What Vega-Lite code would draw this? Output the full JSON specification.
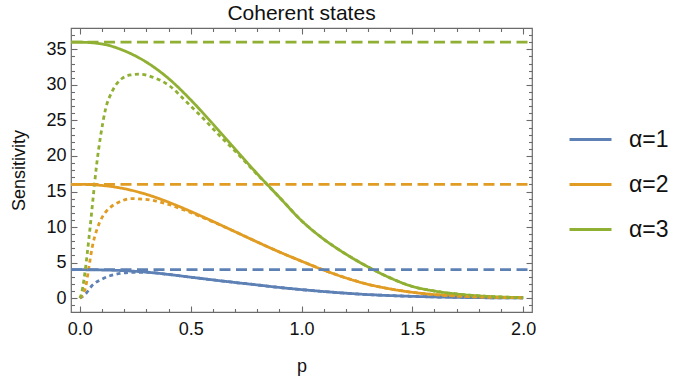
{
  "$schema": "https://vega.github.io/schema/vega-lite/v6.json",
  "autosize": {"type": "none"},
  "padding": {"left": 71, "top": 28, "right": 143, "bottom": 69},
  "width": 461,
  "height": 284,
  "background": "white",
  "config": {
    "view": {"stroke": "#6b6b6b", "strokeWidth": 1.2},
    "font": "Liberation Sans",
    "axis": {"domain": false, "grid": false, "labelFont": "Liberation Sans", "titleFont": "Liberation Sans", "labelColor": "#111", "titleColor": "#111", "tickColor": "#6b6b6b", "tickWidth": 1.1, "titleFontWeight": "normal"}
  },
  "title": {"text": "Coherent states", "fontSize": 21, "font": "Liberation Sans", "fontWeight": "normal", "color": "#111", "baseline": "alphabetic", "offset": -14, "anchor": "middle"},
  "data": {"values": [
    {"p": -0.04, "v": 4.0, "a": "α=1", "s": "solid"},
    {"p": 0, "v": 4.0, "a": "α=1", "s": "solid"},
    {"p": 0.1, "v": 3.96, "a": "α=1", "s": "solid"},
    {"p": 0.2, "v": 3.86, "a": "α=1", "s": "solid"},
    {"p": 0.3, "v": 3.66, "a": "α=1", "s": "solid"},
    {"p": 0.4, "v": 3.33, "a": "α=1", "s": "solid"},
    {"p": 0.5, "v": 2.95, "a": "α=1", "s": "solid"},
    {"p": 0.6, "v": 2.57, "a": "α=1", "s": "solid"},
    {"p": 0.7, "v": 2.2, "a": "α=1", "s": "solid"},
    {"p": 0.8, "v": 1.86, "a": "α=1", "s": "solid"},
    {"p": 0.9, "v": 1.5, "a": "α=1", "s": "solid"},
    {"p": 1.0, "v": 1.2, "a": "α=1", "s": "solid"},
    {"p": 1.1, "v": 0.93, "a": "α=1", "s": "solid"},
    {"p": 1.2, "v": 0.7, "a": "α=1", "s": "solid"},
    {"p": 1.3, "v": 0.5, "a": "α=1", "s": "solid"},
    {"p": 1.4, "v": 0.36, "a": "α=1", "s": "solid"},
    {"p": 1.5, "v": 0.25, "a": "α=1", "s": "solid"},
    {"p": 1.6, "v": 0.17, "a": "α=1", "s": "solid"},
    {"p": 1.7, "v": 0.11, "a": "α=1", "s": "solid"},
    {"p": 1.8, "v": 0.07, "a": "α=1", "s": "solid"},
    {"p": 1.9, "v": 0.04, "a": "α=1", "s": "solid"},
    {"p": 2.0, "v": 0.03, "a": "α=1", "s": "solid"},

    {"p": -0.04, "v": 16, "a": "α=2", "s": "solid"},
    {"p": 0, "v": 16, "a": "α=2", "s": "solid"},
    {"p": 0.1, "v": 15.85, "a": "α=2", "s": "solid"},
    {"p": 0.2, "v": 15.4, "a": "α=2", "s": "solid"},
    {"p": 0.3, "v": 14.6, "a": "α=2", "s": "solid"},
    {"p": 0.4, "v": 13.5, "a": "α=2", "s": "solid"},
    {"p": 0.5, "v": 12.2, "a": "α=2", "s": "solid"},
    {"p": 0.6, "v": 10.8, "a": "α=2", "s": "solid"},
    {"p": 0.7, "v": 9.35, "a": "α=2", "s": "solid"},
    {"p": 0.8, "v": 7.9, "a": "α=2", "s": "solid"},
    {"p": 0.9, "v": 6.5, "a": "α=2", "s": "solid"},
    {"p": 1.0, "v": 5.2, "a": "α=2", "s": "solid"},
    {"p": 1.1, "v": 3.95, "a": "α=2", "s": "solid"},
    {"p": 1.2, "v": 2.85, "a": "α=2", "s": "solid"},
    {"p": 1.3, "v": 1.95, "a": "α=2", "s": "solid"},
    {"p": 1.4, "v": 1.3, "a": "α=2", "s": "solid"},
    {"p": 1.5, "v": 0.82, "a": "α=2", "s": "solid"},
    {"p": 1.6, "v": 0.5, "a": "α=2", "s": "solid"},
    {"p": 1.7, "v": 0.3, "a": "α=2", "s": "solid"},
    {"p": 1.8, "v": 0.17, "a": "α=2", "s": "solid"},
    {"p": 1.9, "v": 0.1, "a": "α=2", "s": "solid"},
    {"p": 2.0, "v": 0.05, "a": "α=2", "s": "solid"},

    {"p": -0.04, "v": 36, "a": "α=3", "s": "solid"},
    {"p": 0, "v": 36, "a": "α=3", "s": "solid"},
    {"p": 0.1, "v": 35.75, "a": "α=3", "s": "solid"},
    {"p": 0.2, "v": 34.8, "a": "α=3", "s": "solid"},
    {"p": 0.3, "v": 33.2, "a": "α=3", "s": "solid"},
    {"p": 0.4, "v": 30.9, "a": "α=3", "s": "solid"},
    {"p": 0.5, "v": 27.9, "a": "α=3", "s": "solid"},
    {"p": 0.6, "v": 24.5, "a": "α=3", "s": "solid"},
    {"p": 0.7, "v": 21.0, "a": "α=3", "s": "solid"},
    {"p": 0.8, "v": 17.5, "a": "α=3", "s": "solid"},
    {"p": 0.9, "v": 14.2, "a": "α=3", "s": "solid"},
    {"p": 1.0, "v": 10.9, "a": "α=3", "s": "solid"},
    {"p": 1.1, "v": 8.3, "a": "α=3", "s": "solid"},
    {"p": 1.2, "v": 6.2, "a": "α=3", "s": "solid"},
    {"p": 1.3, "v": 4.4, "a": "α=3", "s": "solid"},
    {"p": 1.4, "v": 2.85, "a": "α=3", "s": "solid"},
    {"p": 1.5, "v": 1.65, "a": "α=3", "s": "solid"},
    {"p": 1.6, "v": 1.0, "a": "α=3", "s": "solid"},
    {"p": 1.7, "v": 0.58, "a": "α=3", "s": "solid"},
    {"p": 1.8, "v": 0.32, "a": "α=3", "s": "solid"},
    {"p": 1.9, "v": 0.16, "a": "α=3", "s": "solid"},
    {"p": 2.0, "v": 0.08, "a": "α=3", "s": "solid"},

    {"p": 0, "v": 0, "a": "α=1", "s": "dotted"},
    {"p": 0.026, "v": 0.6, "a": "α=1", "s": "dotted"},
    {"p": 0.056, "v": 1.8, "a": "α=1", "s": "dotted"},
    {"p": 0.101, "v": 2.7, "a": "α=1", "s": "dotted"},
    {"p": 0.161, "v": 3.35, "a": "α=1", "s": "dotted"},
    {"p": 0.237, "v": 3.62, "a": "α=1", "s": "dotted"},
    {"p": 0.3, "v": 3.64, "a": "α=1", "s": "dotted"},
    {"p": 0.4, "v": 3.33, "a": "α=1", "s": "dotted"},
    {"p": 0.5, "v": 2.95, "a": "α=1", "s": "dotted"},
    {"p": 0.6, "v": 2.57, "a": "α=1", "s": "dotted"},
    {"p": 0.7, "v": 2.2, "a": "α=1", "s": "dotted"},
    {"p": 0.8, "v": 1.86, "a": "α=1", "s": "dotted"},
    {"p": 0.9, "v": 1.5, "a": "α=1", "s": "dotted"},
    {"p": 1.0, "v": 1.2, "a": "α=1", "s": "dotted"},
    {"p": 1.1, "v": 0.93, "a": "α=1", "s": "dotted"},
    {"p": 1.2, "v": 0.7, "a": "α=1", "s": "dotted"},
    {"p": 1.3, "v": 0.5, "a": "α=1", "s": "dotted"},
    {"p": 1.4, "v": 0.36, "a": "α=1", "s": "dotted"},
    {"p": 1.5, "v": 0.25, "a": "α=1", "s": "dotted"},
    {"p": 1.6, "v": 0.17, "a": "α=1", "s": "dotted"},
    {"p": 1.7, "v": 0.11, "a": "α=1", "s": "dotted"},
    {"p": 1.8, "v": 0.07, "a": "α=1", "s": "dotted"},
    {"p": 1.9, "v": 0.04, "a": "α=1", "s": "dotted"},
    {"p": 2.0, "v": 0.03, "a": "α=1", "s": "dotted"},

    {"p": 0, "v": 0, "a": "α=2", "s": "dotted"},
    {"p": 0.013, "v": 0.5, "a": "α=2", "s": "dotted"},
    {"p": 0.026, "v": 1.55, "a": "α=2", "s": "dotted"},
    {"p": 0.041, "v": 4.4, "a": "α=2", "s": "dotted"},
    {"p": 0.056, "v": 7.2, "a": "α=2", "s": "dotted"},
    {"p": 0.078, "v": 9.76, "a": "α=2", "s": "dotted"},
    {"p": 0.101, "v": 11.4, "a": "α=2", "s": "dotted"},
    {"p": 0.139, "v": 12.8, "a": "α=2", "s": "dotted"},
    {"p": 0.176, "v": 13.5, "a": "α=2", "s": "dotted"},
    {"p": 0.229, "v": 14.0, "a": "α=2", "s": "dotted"},
    {"p": 0.297, "v": 13.9, "a": "α=2", "s": "dotted"},
    {"p": 0.388, "v": 13.3, "a": "α=2", "s": "dotted"},
    {"p": 0.478, "v": 12.3, "a": "α=2", "s": "dotted"},
    {"p": 0.584, "v": 10.95, "a": "α=2", "s": "dotted"},
    {"p": 0.7, "v": 9.35, "a": "α=2", "s": "dotted"},
    {"p": 0.8, "v": 7.9, "a": "α=2", "s": "dotted"},
    {"p": 0.9, "v": 6.5, "a": "α=2", "s": "dotted"},
    {"p": 1.0, "v": 5.2, "a": "α=2", "s": "dotted"},
    {"p": 1.1, "v": 3.95, "a": "α=2", "s": "dotted"},
    {"p": 1.2, "v": 2.85, "a": "α=2", "s": "dotted"},
    {"p": 1.3, "v": 1.95, "a": "α=2", "s": "dotted"},
    {"p": 1.4, "v": 1.3, "a": "α=2", "s": "dotted"},
    {"p": 1.5, "v": 0.82, "a": "α=2", "s": "dotted"},
    {"p": 1.6, "v": 0.5, "a": "α=2", "s": "dotted"},
    {"p": 1.7, "v": 0.3, "a": "α=2", "s": "dotted"},
    {"p": 1.8, "v": 0.17, "a": "α=2", "s": "dotted"},
    {"p": 1.9, "v": 0.1, "a": "α=2", "s": "dotted"},
    {"p": 2.0, "v": 0.05, "a": "α=2", "s": "dotted"},

    {"p": 0, "v": 0, "a": "α=3", "s": "dotted"},
    {"p": 0.008, "v": 0.7, "a": "α=3", "s": "dotted"},
    {"p": 0.018, "v": 2.5, "a": "α=3", "s": "dotted"},
    {"p": 0.033, "v": 6.2, "a": "α=3", "s": "dotted"},
    {"p": 0.048, "v": 10.5, "a": "α=3", "s": "dotted"},
    {"p": 0.063, "v": 15.1, "a": "α=3", "s": "dotted"},
    {"p": 0.075, "v": 18.6, "a": "α=3", "s": "dotted"},
    {"p": 0.094, "v": 22.9, "a": "α=3", "s": "dotted"},
    {"p": 0.116, "v": 26.6, "a": "α=3", "s": "dotted"},
    {"p": 0.146, "v": 29.1, "a": "α=3", "s": "dotted"},
    {"p": 0.19, "v": 30.9, "a": "α=3", "s": "dotted"},
    {"p": 0.23, "v": 31.4, "a": "α=3", "s": "dotted"},
    {"p": 0.267, "v": 31.5, "a": "α=3", "s": "dotted"},
    {"p": 0.327, "v": 31.1, "a": "α=3", "s": "dotted"},
    {"p": 0.403, "v": 29.9, "a": "α=3", "s": "dotted"},
    {"p": 0.478, "v": 27.7, "a": "α=3", "s": "dotted"},
    {"p": 0.553, "v": 25.4, "a": "α=3", "s": "dotted"},
    {"p": 0.629, "v": 22.9, "a": "α=3", "s": "dotted"},
    {"p": 0.7, "v": 20.7, "a": "α=3", "s": "dotted"},
    {"p": 0.8, "v": 17.4, "a": "α=3", "s": "dotted"},
    {"p": 0.9, "v": 14.2, "a": "α=3", "s": "dotted"},
    {"p": 1.0, "v": 10.9, "a": "α=3", "s": "dotted"},
    {"p": 1.1, "v": 8.3, "a": "α=3", "s": "dotted"},
    {"p": 1.2, "v": 6.2, "a": "α=3", "s": "dotted"},
    {"p": 1.3, "v": 4.4, "a": "α=3", "s": "dotted"},
    {"p": 1.4, "v": 2.85, "a": "α=3", "s": "dotted"},
    {"p": 1.5, "v": 1.65, "a": "α=3", "s": "dotted"},
    {"p": 1.6, "v": 1.0, "a": "α=3", "s": "dotted"},
    {"p": 1.7, "v": 0.58, "a": "α=3", "s": "dotted"},
    {"p": 1.8, "v": 0.32, "a": "α=3", "s": "dotted"},
    {"p": 1.9, "v": 0.16, "a": "α=3", "s": "dotted"},
    {"p": 2.0, "v": 0.08, "a": "α=3", "s": "dotted"},

    {"p": -0.04, "v": 4, "a": "α=1", "s": "dashed"},
    {"p": 2.04, "v": 4, "a": "α=1", "s": "dashed"},
    {"p": -0.04, "v": 16, "a": "α=2", "s": "dashed"},
    {"p": 2.04, "v": 16, "a": "α=2", "s": "dashed"},
    {"p": -0.04, "v": 36, "a": "α=3", "s": "dashed"},
    {"p": 2.04, "v": 36, "a": "α=3", "s": "dashed"}
  ]},
  "resolve": {"axis": {"x": "independent", "y": "independent"}},
  "layer": [
    {
      "transform": [{"filter": "datum.s !== 'dashed'"}],
      "mark": {"type": "line", "strokeWidth": 2.8, "clip": true, "interpolate": "monotone"},
      "encoding": {
        "x": {"field": "p", "type": "quantitative", "scale": {"domain": [-0.04, 2.04], "nice": false, "zero": false},
          "axis": {"orient": "bottom", "title": "p", "titleFontSize": 18, "titleY": 45, "titleBaseline": "top",
            "values": [0,0.1,0.2,0.3,0.4,0.5,0.6,0.7,0.8,0.9,1.0,1.1,1.2,1.3,1.4,1.5,1.6,1.7,1.8,1.9,2.0],
            "labelExpr": "abs(datum.value*2 - round(datum.value*2)) < 1e-6 ? format(datum.value, '.1f') : ''",
            "labelFontSize": 18, "labelPadding": 14.5, "labelFlush": false,
            "tickSize": {"condition": {"test": "abs(datum.value*2 - round(datum.value*2)) < 1e-6", "value": -6}, "value": -3.5}}},
        "y": {"field": "v", "type": "quantitative", "scale": {"domain": [-1.95, 38], "nice": false, "zero": false},
          "axis": {"orient": "left", "title": "Sensitivity", "titleFontSize": 18, "titleX": -52, "titleY": 142, "titleAlign": "center", "titleBaseline": "middle", "titleAngle": 270,
            "values": [-1,0,1,2,3,4,5,6,7,8,9,10,11,12,13,14,15,16,17,18,19,20,21,22,23,24,25,26,27,28,29,30,31,32,33,34,35,36,37],
            "labelExpr": "datum.value % 5 === 0 && datum.value >= 0 ? format(datum.value, 'd') : ''",
            "labelFontSize": 18, "labelPadding": 11, "labelFlush": false,
            "tickSize": {"condition": {"test": "datum.value % 5 === 0", "value": -6}, "value": -3.5}}},
        "color": {"field": "a", "type": "nominal", "scale": {"domain": ["α=1", "α=2", "α=3"], "range": ["#5E81B5", "#E19C24", "#8FB032"]},
          "legend": {"orient": "none", "legendX": 497, "legendY": 89, "title": null, "symbolType": "stroke", "symbolSize": 1764, "symbolStrokeWidth": 2.8,
            "labelFontSize": 23, "labelFont": "Liberation Sans", "labelColor": "#111", "labelOffset": 16, "rowPadding": 10, "padding": 0}},
        "strokeDash": {"field": "s", "type": "nominal", "scale": {"domain": ["solid", "dashed", "dotted"], "range": [[1, 0], [11, 5.5], [4, 3.5]]}, "legend": null}
      }
    },
    {
      "transform": [{"filter": "datum.s === 'dashed'"}],
      "mark": {"type": "line", "strokeWidth": 2.8, "clip": true},
      "encoding": {
        "x": {"field": "p", "type": "quantitative",
          "axis": {"orient": "top", "title": null, "labels": false,
            "values": [0,0.1,0.2,0.3,0.4,0.5,0.6,0.7,0.8,0.9,1.0,1.1,1.2,1.3,1.4,1.5,1.6,1.7,1.8,1.9,2.0],
            "tickSize": {"condition": {"test": "abs(datum.value*2 - round(datum.value*2)) < 1e-6", "value": -6}, "value": -3.5}}},
        "y": {"field": "v", "type": "quantitative",
          "axis": {"orient": "right", "title": null, "labels": false,
            "values": [-1,0,1,2,3,4,5,6,7,8,9,10,11,12,13,14,15,16,17,18,19,20,21,22,23,24,25,26,27,28,29,30,31,32,33,34,35,36,37],
            "tickSize": {"condition": {"test": "datum.value % 5 === 0", "value": -6}, "value": -3.5}}},
        "color": {"field": "a", "type": "nominal"},
        "strokeDash": {"field": "s", "type": "nominal", "legend": null}
      }
    }
  ]
}
